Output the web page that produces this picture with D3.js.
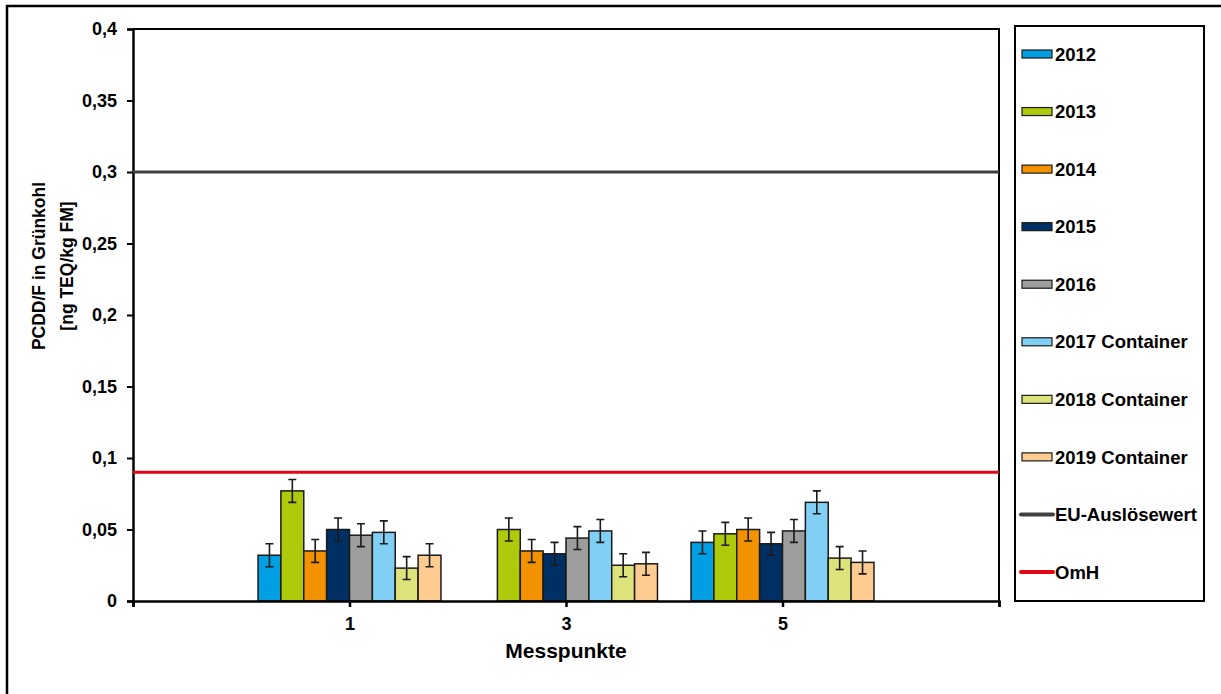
<!DOCTYPE html>
<html>
<head>
<meta charset="utf-8">
<script src="https://cdn.jsdelivr.net/npm/d3@7"></script>
<style>
  body { margin: 0; background: #fff; }
  svg { font-family: "Liberation Sans", Arial, sans-serif; font-weight: bold; }
</style>
</head>
<body>
<div id="chart"></div>
<script>
// data
const categories = [1, 3, 5];
const series = ["2012", "2013", "2014", "2015", "2016", "2017 Container", "2018 Container", "2019 Container"];
const colors = ["#009fe3", "#afca0b", "#f39200", "#003063", "#9d9d9c", "#81cff4", "#dde37a", "#fecb90"];
const v2012 = [0.032, null, 0.041];
const v2013 = [0.077, 0.050, 0.047];
const v2014 = [0.035, 0.035, 0.050];
const v2015 = [0.050, 0.033, 0.040];
const v2016 = [0.046, 0.044, 0.049];
const v2017 = [0.048, 0.049, 0.069];
const v2018 = [0.023, 0.025, 0.030];
const v2019 = [0.032, 0.026, 0.027];
const errorValue = 0.008;
const yTicks = [0, 0.05, 0.1, 0.15, 0.2, 0.25, 0.3, 0.35, 0.4];
const xTicks = [-1, 1, 3, 5, 7];
const euLimit = 0.3;   // EU-Auslösewert
const omh = 0.09;      // OmH

const values = [v2012, v2013, v2014, v2015, v2016, v2017, v2018, v2019];

const width = 1221, height = 694;
const margin = { top: 29, right: 222, bottom: 93, left: 133 };

const svg = d3.select("#chart").append("svg")
  .attr("width", width)
  .attr("height", height);

// outer frame (runs off the right and bottom edge)
svg.append("rect")
  .attr("x", 7).attr("y", 6)
  .attr("width", width + 20).attr("height", height + 20)
  .attr("fill", "none").attr("stroke", "#000").attr("stroke-width", 2.5);

const x = d3.scaleLinear()
  .domain([-1, 7])
  .range([margin.left, width - margin.right]);

const y = d3.scaleLinear()
  .domain([0, 0.4])
  .range([height - margin.bottom, margin.top]);

const groupSpan = 1.69;
const xInner = d3.scaleBand()
  .domain(series)
  .range([0, x(groupSpan) - x(0)]);

// plot border (top + right)
svg.append("path")
  .attr("d", `M${x(-1)},${y(0.4)}H${x(7)}V${y(0)}`)
  .attr("fill", "none").attr("stroke", "#000").attr("stroke-width", 2);

// y axis
const gy = svg.append("g")
  .attr("transform", `translate(${margin.left},0)`)
  .call(d3.axisLeft(y).tickValues(yTicks).tickSize(6).tickPadding(10)
    .tickFormat(d => d3.format("~g")(d).replace(".", ",")));
gy.select(".domain").attr("stroke-width", 2.5);
gy.selectAll(".tick line").attr("stroke-width", 2);
gy.selectAll(".tick text").style("font-size", "18px").attr("fill", "#000");

// bars
series.forEach((s, i) => {
  const rows = categories.map((c, j) => ({ c, v: values[i][j] })).filter(d => d.v != null);
  const g = svg.append("g");
  g.selectAll("rect")
    .data(rows)
    .join("rect")
    .attr("x", d => x(d.c) - (x(groupSpan) - x(0)) / 2 + xInner(s))
    .attr("y", d => y(d.v))
    .attr("width", xInner.bandwidth())
    .attr("height", d => y(0) - y(d.v))
    .attr("fill", colors[i])
    .attr("stroke", "#1a1a1a")
    .attr("stroke-width", 1.5);

  // error bars
  const cx = d => x(d.c) - (x(groupSpan) - x(0)) / 2 + xInner(s) + xInner.bandwidth() / 2;
  g.selectAll("path.err")
    .data(rows)
    .join("path")
    .attr("class", "err")
    .attr("d", d => {
      const t = y(d.v + errorValue), b = y(d.v - errorValue), c = cx(d);
      return `M${c - 4},${t}H${c + 4}M${c},${t}V${b}M${c - 4},${b}H${c + 4}`;
    })
    .attr("fill", "none")
    .attr("stroke", "#1a1a1a")
    .attr("stroke-width", 1.6);
});

// x axis
const gx = svg.append("g")
  .attr("transform", `translate(0,${y(0)})`)
  .call(d3.axisBottom(x).tickValues(xTicks).tickSize(6).tickPadding(10)
    .tickFormat(d => categories.includes(d) ? d : ""));
gx.select(".domain").attr("stroke-width", 2.5);
gx.selectAll(".tick line").attr("stroke-width", 2.5);
gx.selectAll(".tick text").style("font-size", "18px").attr("fill", "#000");

// reference lines
svg.append("line")
  .attr("x1", x(-1)).attr("x2", x(7))
  .attr("y1", y(euLimit)).attr("y2", y(euLimit))
  .attr("stroke", "#404040").attr("stroke-width", 3);
svg.append("line")
  .attr("x1", x(-1)).attr("x2", x(7))
  .attr("y1", y(omh)).attr("y2", y(omh))
  .attr("stroke", "#e30613").attr("stroke-width", 3);

// axis titles
svg.append("text")
  .attr("x", x(3)).attr("y", 658)
  .attr("text-anchor", "middle")
  .style("font-size", "21px")
  .text("Messpunkte");

const yt = svg.append("text")
  .attr("transform", "translate(0,266) rotate(-90)")
  .attr("text-anchor", "middle")
  .style("font-size", "17.5px");
yt.append("tspan").attr("x", 0).attr("y", 45).text("PCDD/F in Grünkohl");
yt.append("tspan").attr("x", 0).attr("y", 73).text("[ng TEQ/kg FM]");

// legend
const legend = svg.append("g");
legend.append("rect")
  .attr("x", 1015).attr("y", 26)
  .attr("width", 189).attr("height", 575)
  .attr("fill", "none").attr("stroke", "#000").attr("stroke-width", 2);

const legendItems = series.map((s, i) => ({ label: s, color: colors[i], type: "bar" }))
  .concat([{ label: "EU-Auslösewert", color: "#404040", type: "line" },
           { label: "OmH", color: "#e30613", type: "line" }]);

const ly = d3.scalePoint()
  .domain(legendItems.map(d => d.label))
  .range([54, 572]);

legendItems.forEach(d => {
  const cy = ly(d.label);
  if (d.type === "bar") {
    legend.append("rect")
      .attr("x", 1022).attr("y", cy - 4)
      .attr("width", 30).attr("height", 8)
      .attr("fill", d.color).attr("stroke", "#1a1a1a").attr("stroke-width", 1.2);
  } else {
    legend.append("line")
      .attr("x1", 1021).attr("x2", 1053)
      .attr("y1", cy).attr("y2", cy)
      .attr("stroke", d.color).attr("stroke-width", 4).attr("stroke-linecap", "round");
  }
  legend.append("text")
    .attr("x", 1055).attr("y", cy)
    .attr("dy", "0.36em")
    .style("font-size", "18.5px")
    .text(d.label);
});
</script>
</body>
</html>
